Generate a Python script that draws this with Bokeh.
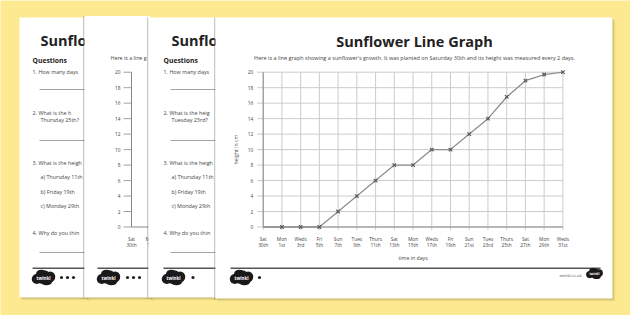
import math
from bokeh.plotting import figure
from bokeh.models import Range1d
from bokeh.embed import file_html
from bokeh.resources import INLINE
from bokeh.core.properties import value

# ---------------- data ----------------
day_names = ["Sat", "Mon", "Weds", "Fri", "Sun", "Tues", "Thurs", "Sat", "Mon",
             "Weds", "Fri", "Sun", "Tues", "Thurs", "Sat", "Mon", "Weds"]
day_dates = ["30th", "1st", "3rd", "5th", "7th", "9th", "11th", "13th", "15th",
             "17th", "19th", "21st", "23rd", "25th", "27th", "29th", "31st"]
heights_cm = [0, 0, 0, 0, 2, 4, 6, 8, 8, 10, 10, 12, 14, 16.8, 18.9, 19.7, 20]
y_ticks = [0, 2, 4, 6, 8, 10, 12, 14, 16, 18, 20]

title = "Sunflower Line Graph"
subtitle = ("Here is a line graph showing a sunflower's growth. It was planted on "
            "Saturday 30th and its height was measured every 2 days.")
x_label = "time in days"
y_label = "height in cm"

q_page1 = ["1. How many days", "2. What is the h", "Thursday 25th?",
           "3. What is the heigh", "a) Thursday 11th", "b) Friday 19th",
           "c) Monday 29th", "4. Why do you thin"]
q_page3 = ["1. How many days", "2. What is the heig", "Tuesday 23rd?",
           "3. What is the heigh", "a) Thursday 11th", "b) Friday 19th",
           "c) Monday 29th", "4. Why do you thin"]

# ---------------- layout (pixels) ----------------
W, H = 630, 315
X0_PX, DX_PX = 262.7, 18.73     # pixel of first day, pixels per day
Y0_PX, DY_PX = 226.5, 7.74      # pixel (from top) of 0 cm, pixels per cm
YELLOW = "#FDE98F"
FONT = "Open Sans"

xr = Range1d(-X0_PX / DX_PX, (W - X0_PX) / DX_PX)
yr = Range1d(-(H - Y0_PX) / DY_PX, Y0_PX / DY_PX)

p = figure(width=W, height=H, x_range=xr, y_range=yr, output_backend="svg",
           toolbar_location=None, min_border=0,
           x_axis_location=None, y_axis_location=None)
p.outline_line_color = None
p.background_fill_color = YELLOW
p.border_fill_color = YELLOW
p.xgrid.visible = False
p.ygrid.visible = False
p.extra_x_ranges = {"px": Range1d(0, W)}
p.extra_y_ranges = {"py": Range1d(H, 0)}

PX = dict(x_range_name="px", y_range_name="py")


def prect(x0, y0, x1, y1, color, alpha=1.0):
    p.quad(left=[x0], right=[x1], top=[y0], bottom=[y1], fill_color=color,
           fill_alpha=alpha, line_color=None, **PX)


def ptext(x, y, s, size, bold=False, align="left", color="#333333", angle=0.0):
    p.text(x=[x], y=[y], text=[s], text_font=value(FONT),
           text_font_size=f"{size}px", text_font_style="bold" if bold else "normal",
           text_align=align, text_baseline="middle", text_color=color,
           angle=angle, **PX)


def pline(xs, ys, color="#555555", width=1.0):
    p.line(x=xs, y=ys, line_color=color, line_width=width, **PX)


def dots(x0, y, count):
    p.ellipse(x=[x0 + 6 * k for k in range(count)], y=[y] * count,
              width=3.2, height=3.2, fill_color="#222222", line_color=None, **PX)


def logo(cx, cy, w):
    h = w * 0.6
    p.ellipse(x=[cx, cx - w * 0.32, cx + w * 0.32, cx - w * 0.1, cx + w * 0.14, cx + w * 0.05],
              y=[cy, cy + h * 0.12, cy - h * 0.05, cy - h * 0.32, cy + h * 0.32, cy - h * 0.2],
              width=[w * 0.85, w * 0.48, w * 0.48, w * 0.5, w * 0.55, w * 0.5],
              height=[h, h * 0.8, h * 0.85, h * 0.6, h * 0.6, h * 0.7],
              fill_color="#1a1a1a", line_color=None, **PX)
    ptext(cx, cy, "twinkl", w * 0.21, bold=True, align="center", color="white")


def page(x0, y0, x1, y1, left_edge=True):
    for k, a in ((1, 0.18), (2, 0.1), (3, 0.05)):
        prect(x0 + k, y0 + k, x1 + k, y1 + k, "#5a4a20", a)
    if left_edge:
        prect(x0 - 1.5, y0, x0, y1 + 1.5, "#777777", 0.4)
    prect(x0, y0, x1, y1, "white")


def question_page(ox, lines):
    ptext(ox + 40, 40, "Sunflo", 14.5, bold=True, color="#222222")
    ptext(ox + 32, 60, "Questions", 6.8, bold=True, color="#222222")
    ys = [71, 112, 119, 162, 176.5, 191, 205, 232]
    xs = [32, 32, 40, 32, 40, 40, 40, 32]
    for s, yy, xx in zip(lines, ys, xs):
        ptext(ox + xx, yy, s, 5.4, color="#444444")
    for yy in (89, 140, 252):
        pline([ox + 39, ox + 90], [yy, yy], "#999999", 0.9)
    pline([ox + 32, ox + 90], [267.8, 267.8], "#555555", 1.6)


# ---- page 1 ----
page(19, 17, 86, 297, left_edge=False)
question_page(0, q_page1)
logo(43, 277, 21)
dots(61, 277, 3)

# ---- page 2 (blank graph page) ----
page(84, 15.5, 150, 297)
ptext(110, 57, "Here is a line g", 5.3, color="#444444")
p.segment(x0=[123] * len(y_ticks), y0=y_ticks, x1=[131] * len(y_ticks), y1=y_ticks,
          line_color="#999999", line_width=0.9, x_range_name="px")
p.text(x=[120] * len(y_ticks), y=y_ticks, text=[str(t) for t in y_ticks],
       text_font=value(FONT), text_font_size="4.8px", text_align="right",
       text_baseline="middle", text_color="#444444", x_range_name="px")
p.line(x=[131, 131], y=[0, max(y_ticks)], line_color="#888888", line_width=1,
       x_range_name="px")
p.line(x=[131, 152], y=[0, 0], line_color="#888888", line_width=1, x_range_name="px")
p.text(x=[131, 150], y=[0, 0], text=day_names[:2], y_offset=11.8,
       text_font=value(FONT), text_font_size="4.8px", text_align="center",
       text_baseline="middle", text_color="#444444", x_range_name="px")
p.text(x=[131, 150], y=[0, 0], text=day_dates[:2], y_offset=17.8,
       text_font=value(FONT), text_font_size="4.8px", text_align="center",
       text_baseline="middle", text_color="#444444", x_range_name="px")
pline([97, 152], [267.8, 267.8], "#555555", 1.6)
logo(108, 277, 21)
dots(127, 277, 3)

# ---- page 3 ----
page(148, 17, 216, 297)
question_page(131, q_page3)
logo(173, 277, 21)
dots(192.5, 277, 1)

# ---- page 4 (main chart page) ----
page(215, 17, 612, 298)
ptext(414, 41, title, 14.5, bold=True, align="center", color="#222222")
ptext(414, 57.8, subtitle, 5.5, align="center", color="#444444")
pline([230, 600], [267.8, 267.8], "#555555", 1.6)
logo(241, 277, 21)
dots(259, 277, 1)
ptext(581, 275, "twinkl.co.uk", 4, align="right", color="#555555")
logo(594, 273, 15)

# chart drawn through the chart scales
n = len(day_names)
idx = list(range(n))
top = max(y_ticks)
p.segment(x0=idx, y0=[-0.4] * n, x1=idx, y1=[top] * n,
          line_color="#cccccc", line_width=1)
p.segment(x0=[-0.33] * len(y_ticks), y0=y_ticks, x1=[n - 1] * len(y_ticks), y1=y_ticks,
          line_color="#cccccc", line_width=1)
p.line(x=[0, n - 1], y=[0, 0], line_color="#8a8a8a", line_width=1)
p.line(x=[0, 0], y=[0, top], line_color="#8a8a8a", line_width=1)

p.line(x=idx, y=heights_cm, line_color="#8f8f8f", line_width=1.3)
p.scatter(x=idx[1:], y=heights_cm[1:], marker="x", size=5,
          line_color="#555555", line_width=1.1)

p.text(x=[0] * len(y_ticks), y=y_ticks, text=[str(t) for t in y_ticks], x_offset=-10,
       text_font=value(FONT), text_font_size="4.8px", text_align="right",
       text_baseline="middle", text_color="#444444")
p.text(x=idx, y=[0] * n, text=day_names, y_offset=11.8,
       text_font=value(FONT), text_font_size="4.8px", text_align="center",
       text_baseline="middle", text_color="#444444")
p.text(x=idx, y=[0] * n, text=day_dates, y_offset=17.8,
       text_font=value(FONT), text_font_size="4.8px", text_align="center",
       text_baseline="middle", text_color="#444444")
p.text(x=[(n - 1) / 2], y=[0], text=[x_label], y_offset=30.8,
       text_font=value(FONT), text_font_size="5.2px", text_align="center",
       text_baseline="middle", text_color="#444444")
p.text(x=[0], y=[top / 2], text=[y_label], x_offset=-27, angle=math.pi / 2,
       text_font=value(FONT), text_font_size="5.2px", text_align="center",
       text_baseline="middle", text_color="#444444")

open("out.html", "w").write(file_html(p, INLINE))
